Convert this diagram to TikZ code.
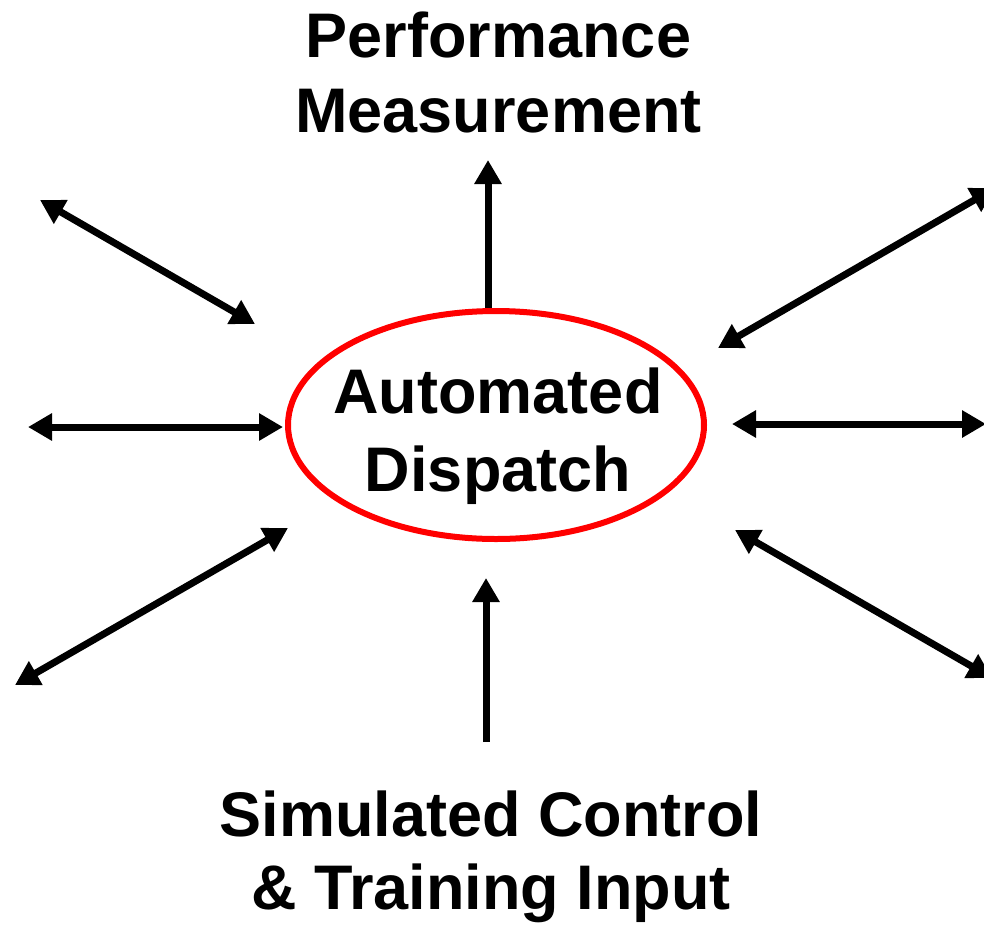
\documentclass[tikz,border=0pt]{standalone}
\usepackage{fontspec}
\setmainfont{Liberation Sans}
\usetikzlibrary{arrows.meta,shapes.geometric}
\begin{document}
\begin{tikzpicture}[x=1pt,y=-1pt,
  lbl/.style={font=\bfseries, align=center, inner sep=0pt},
  conn/.style={line width=7pt, -{Triangle[length=24pt,width=26pt]}},
  dbl/.style={line width=7pt, {Triangle[length=24pt,width=26pt]}-{Triangle[length=24pt,width=26pt]}}]
\useasboundingbox (0,0) rectangle (984,924);
% central ellipse
\node[ellipse, draw=red, line width=6pt, minimum width=416pt, minimum height=228pt, inner sep=0pt] (ad) at (496,425) {};
\node[lbl, font=\bfseries\fontsize{63}{78}\selectfont] (adtext) at (498,436) {Automated\\Dispatch};
% labels
\node[lbl, font=\bfseries\fontsize{63}{75}\selectfont] (perf) at (498.5,72.5) {Performance\\Measurement};
\node[lbl, font=\bfseries\fontsize{63}{73}\selectfont] (sim) at (491,857) {Simulated Control\\\& Training Input};
% free ends
\coordinate (pmtip) at (488,160);
\coordinate (simtail) at (486,742);
\coordinate (simtip) at (486,578);
\coordinate (ula) at (40,200);
\coordinate (ulb) at (255,324);
\coordinate (la) at (28,427);
\coordinate (lb) at (283,427);
\coordinate (lla) at (15,685);
\coordinate (llb) at (288,528);
\coordinate (ura) at (718,348);
\coordinate (urb) at (995,188);
\coordinate (ra) at (732,424);
\coordinate (rb) at (986,424);
\coordinate (lra) at (735,530);
\coordinate (lrb) at (992,678);
% connectors
\draw[conn] (pmtip |- ad.north) -- (pmtip);
\draw[conn] (simtail) -- (simtip);
\draw[dbl] (ula) -- (ulb);
\draw[dbl] (la) -- (lb);
\draw[dbl] (lla) -- (llb);
\draw[dbl] (ura) -- (urb);
\draw[dbl] (ra) -- (rb);
\draw[dbl] (lra) -- (lrb);
\end{tikzpicture}
\end{document}
